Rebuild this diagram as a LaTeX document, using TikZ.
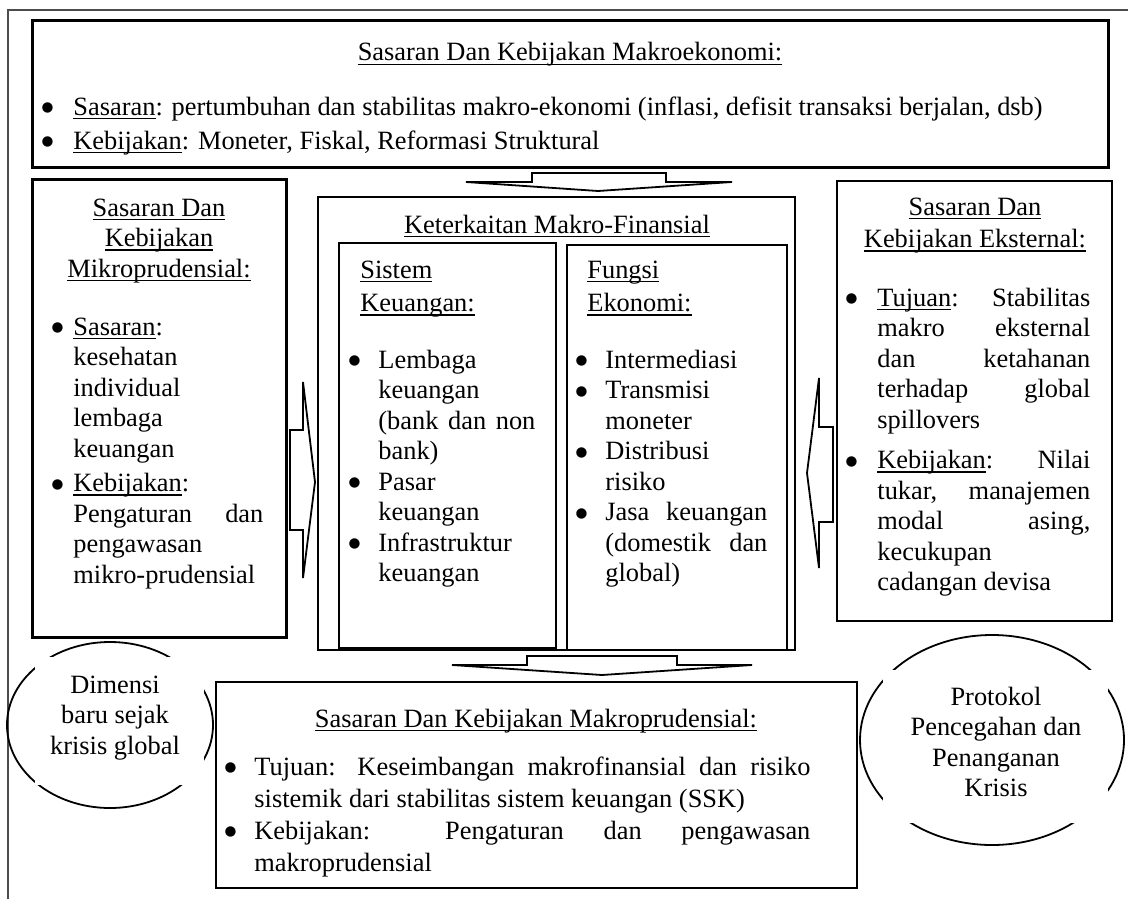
\documentclass[tikz,border=0pt]{standalone}
\usepackage{fontspec}
\setmainfont{Liberation Serif}
\newfontfamily\dejavu{DejaVu Sans}
\usetikzlibrary{shapes.geometric}
\newcommand\uln[1]{\leavevmode\setbox0=\hbox{#1}\rlap{\rule[-2pt]{\wd0}{0.7pt}}\box0}
\newcommand\bdot{\raisebox{1.7pt}{\dejavu\fontsize{6.8pt}{7pt}\selectfont ●}}
\newcommand\bul[1]{\leavevmode\llap{\bdot\hspace{#1}}}
\newcommand\J[2]{\makebox[#1][s]{#2}}
\begin{document}
\begin{tikzpicture}[x=0.5pt,y=-0.5pt,
  t/.style={inner sep=0pt, font=\fontsize{13.2pt}{15.25pt}\selectfont},
  boxA/.style={draw, line width=1.5pt, inner sep=0pt},
  boxB/.style={draw, line width=0.9pt, inner sep=0pt},
  boxC/.style={draw, line width=0.7pt, inner sep=0pt},
  blk/.style={draw, line width=0.9pt, fill=white, line join=miter},
  ell/.style={draw, ellipse, line width=0.9pt, inner sep=0pt},
  mask/.style={fill=white, inner sep=0pt}
]
\useasboundingbox (0,0) rectangle (1128,899);
\fill[white] (0,0) rectangle (1128,899);
% outer frame
\coordinate (fa) at (8,899);
\coordinate (fb) at (8,10);
\coordinate (fc) at (1128,10);
\draw[line width=0.6pt, black!70] (fa) -- (fb) -- (fc);

% top box
\node[boxA, minimum width=538pt, minimum height=73pt] (top) at (570,94) {};
\node[t, anchor=base] (toptitle) at (570,61) {\uln{Sasaran Dan Kebijakan Makroekonomi:}};
\node[t, anchor=base west] (topb1) at (73,115) {\bul{10pt}\uln{Sasaran}: pertumbuhan dan stabilitas makro-ekonomi (inflasi, defisit transaksi berjalan, dsb)};
\node[t, anchor=base west] (topb2) at (73,149) {\bul{10pt}\uln{Kebijakan}: Moneter, Fiskal, Reformasi Struktural};

% top arrow
\draw[blk] (466,182) -- (532,182) -- (532,173) -- (666,173) -- (666,182) -- (732,182) -- (598,191) -- cycle;

% left box
\node[boxA, minimum width=127pt, minimum height=229pt] (left) at (159,408) {};
\node[t, anchor=base] (ltitle) at (159,216) {\parbox[t]{125pt}{\centering\uln{Sasaran Dan}\\\uln{Kebijakan}\\\uln{Mikroprudensial:}}};
\node[t, anchor=base west] (lbody) at (73,335) {\parbox[t]{95pt}{\raggedright
\bul{5pt}\uln{Sasaran}:\\ kesehatan\\ individual\\ lembaga\\ keuangan\\[2pt]
\bul{5pt}\uln{Kebijakan}:\\ \J{95pt}{Pengaturan dan}\\ pengawasan\\ mikro-prudensial}};

% left arrow (pointing right)
\draw[blk] (290,430) -- (303,430) -- (303,382) -- (315,482) -- (303,578) -- (303,530) -- (290,530) -- cycle;

% centre box
\node[boxC, minimum width=238.5pt, minimum height=226.5pt] (centre) at (556.5,423.5) {};
\node[t, anchor=base] (ctitle) at (557,233) {\uln{Keterkaitan Makro-Finansial}};
\node[boxC, minimum width=108.5pt, minimum height=202.5pt] (sk) at (447.5,445.5) {};
\node[boxC, minimum width=110pt, minimum height=202.5pt] (fe) at (677,447.5) {};
\node[t, anchor=base west] (sktitle) at (360,278) {\parbox[t]{80pt}{\uln{Sistem}\\[1.5pt]\uln{Keuangan:}}};
\node[t, anchor=base west] (skbody) at (378,368) {\parbox[t]{78.5pt}{\raggedright
\bul{9pt}Lembaga\\ keuangan\\ \J{78.5pt}{(bank dan non}\\ bank)\\
\bul{9pt}Pasar\\ keuangan\\
\bul{9pt}Infrastruktur\\ keuangan}};
\node[t, anchor=base west] (fetitle) at (587,278) {\parbox[t]{80pt}{\uln{Fungsi}\\[1.5pt]\uln{Ekonomi:}}};
\node[t, anchor=base west] (febody) at (605,368) {\parbox[t]{81pt}{\raggedright
\bul{9pt}Intermediasi\\
\bul{9pt}Transmisi\\ moneter\\
\bul{9pt}Distribusi\\ risiko\\
\bul{9pt}\J{81pt}{Jasa keuangan}\\ \J{81pt}{(domestik dan}\\ global)}};

% right arrow (pointing left)
\draw[blk] (833,427) -- (819,427) -- (819,378) -- (807,473) -- (819,568) -- (819,522) -- (833,522) -- cycle;

% right box
\node[boxB, minimum width=137.5pt, minimum height=220pt] (right) at (974.5,401) {};
\node[t, anchor=base] (rtitle) at (975,215) {\parbox[t]{136pt}{\centering\uln{Sasaran Dan}\\[1pt]\uln{Kebijakan Eksternal:}}};
\node[t, anchor=base west] (rbody) at (877,306) {\parbox[t]{106.5pt}{\raggedright
\bul{10pt}\J{106.5pt}{\uln{Tujuan}: Stabilitas}\\
\J{106.5pt}{makro eksternal}\\
\J{106.5pt}{dan ketahanan}\\
\J{106.5pt}{terhadap global}\\
spillovers\\[5pt]
\bul{10pt}\J{106.5pt}{\uln{Kebijakan}: Nilai}\\
\J{106.5pt}{tukar, manajemen}\\
\J{106.5pt}{modal asing,}\\
kecukupan\\
cadangan devisa}};

% bottom arrow
\draw[blk] (452,665) -- (527,665) -- (527,656) -- (677,656) -- (677,665) -- (752,665) -- (602,675) -- cycle;

% bottom box
\node[boxB, minimum width=320.5pt, minimum height=103pt] (bottom) at (536.5,785) {};
\node[t, anchor=base] (btitle) at (536,727) {\uln{Sasaran Dan Kebijakan Makroprudensial:}};
\node[t, anchor=base west, font=\fontsize{13.2pt}{16pt}\selectfont] (bbody) at (254,775) {\parbox[t]{278pt}{\raggedright
\bul{9pt}\J{278pt}{Tujuan: Keseimbangan makrofinansial dan risiko}\\
sistemik dari stabilitas sistem keuangan (SSK)\\
\bul{9pt}\J{278pt}{Kebijakan: Pengaturan dan pengawasan}\\
makroprudensial}};

% left ellipse
\node[ell, minimum width=103pt, minimum height=83pt] (lell) at (110,725) {};
\node[mask, minimum width=84.5pt, minimum height=64pt] (lmask) at (119.5,721) {};
\node[t, anchor=base] (ltext) at (115,693) {\parbox[t]{84pt}{\centering Dimensi\\ baru sejak\\ krisis global}};

% right ellipse
\node[ell, minimum width=132pt, minimum height=105pt] (rell) at (992,740) {};
\node[mask, minimum width=112.5pt, minimum height=76.5pt] (rmask) at (995.5,746.5) {};
\node[t, anchor=base] (rtext) at (996,705) {\parbox[t]{110pt}{\centering Protokol\\ Pencegahan dan\\ Penanganan\\ Krisis}};
\end{tikzpicture}
\end{document}
